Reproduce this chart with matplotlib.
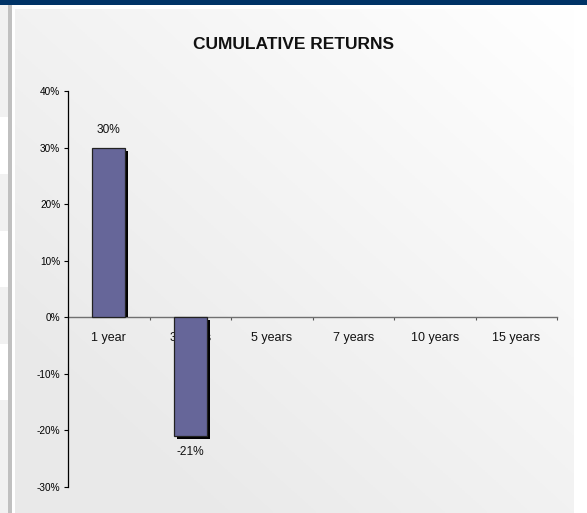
import numpy as np
import matplotlib
matplotlib.use("Agg")
import matplotlib.pyplot as plt
from matplotlib.patches import Rectangle
from matplotlib.transforms import Bbox, TransformedBbox, offset_copy

periods = ["1 year", "3 years", "5 years", "7 years", "10 years", "15 years"]
returns = [0.30, -0.21, None, None, None, None]
yticks = [-0.3, -0.2, -0.1, 0.0, 0.1, 0.2, 0.3, 0.4]

W, H = 587, 513
fig = plt.figure(figsize=(W / 100, H / 100), dpi=100)
fig.patch.set_facecolor("white")
plt.rcParams["font.family"] = ["Liberation Sans", "DejaVu Sans"]


def rect(x, y, w, h):
    # pixel box (top-left origin) -> figure fraction
    return [x / W, 1 - (y + h) / H, w / W, h / H]


def fig_box(x, y, w, h, color):
    r = rect(x, y, w, h)
    fig.add_artist(Rectangle((r[0], r[1]), r[2], r[3], transform=fig.transFigure,
                             facecolor=color, edgecolor="none", zorder=0))


# page decoration
fig_box(0, 0, W, 5, "#003366")
for y0, y1, c in [(5, 117, "#f1f1f1"), (117, 174, "white"), (174, 231, "#f1f1f1"),
                  (231, 287, "white"), (287, 344, "#f1f1f1"), (344, 400, "white"),
                  (400, 513, "#f1f1f1")]:
    fig_box(0, y0, 8, y1 - y0, c)
fig_box(8, 5, 4, H - 5, "#c0c0c0")

# gradient panel
bg = fig.add_axes(rect(15, 9, 559, 504))
bg.set_zorder(-1)
gx, gy = np.meshgrid(np.linspace(0, 1, 200), np.linspace(0, 1, 200))
t = np.clip(((1 - gx) * 0.6 + gy * 0.6), 0, 1)
shade = 1 - 0.085 * t
bg.imshow(np.dstack([shade] * 3), aspect="auto", extent=(0, 1, 1, 0))
bg.axis("off")

ax = fig.add_axes(rect(68, 91, 489, 396))
ax.set_facecolor("none")
ax.set_xlim(-0.5, len(periods) - 0.5)
ax.set_ylim(-0.3, 0.4)

x = np.arange(len(periods))
vals = [v if v is not None else 0 for v in returns]
shadow_tr = offset_copy(ax.transData, fig=fig, x=3, y=-3, units="dots")
shadows = ax.bar(x, vals, width=0.4, color="black", edgecolor="none",
                 transform=shadow_tr, zorder=2.9)
bars = ax.bar(x, vals, width=0.4, color="#666699", edgecolor="#222222",
              linewidth=0.9, zorder=3)
upper = TransformedBbox(Bbox([[-0.5, 0.0], [len(periods) - 0.5, 0.4]]), ax.transData)
for b, s, v in zip(bars, shadows, returns):
    if v is None:
        b.set_visible(False)
        s.set_visible(False)
        continue
    if v >= 0:
        s.set_clip_box(upper)
        ax.annotate(f"{v * 100:.0f}%", (b.get_x() + b.get_width() / 2, v),
                    xytext=(0, 10.8), textcoords="offset points", ha="center",
                    va="baseline", fontsize=8.6, color="#111111", zorder=4)
    else:
        ax.annotate(f"{v * 100:.0f}%", (b.get_x() + b.get_width() / 2, v),
                    xytext=(0, -13.7), textcoords="offset points", ha="center",
                    va="baseline", fontsize=8.6, color="#111111", zorder=4)

for i, p in enumerate(periods):
    ax.annotate(p, (i, 0), xytext=(0, -17.3), textcoords="offset points",
                ha="center", va="baseline", fontsize=9, color="#111111", zorder=1)

ax.set_yticks(yticks)
ax.set_yticklabels([f"{v * 100:.0f}%" for v in yticks])
ax.set_xticks(np.arange(len(periods)) + 0.5)
ax.set_xticklabels([])
ax.tick_params(axis="y", direction="out", length=3, width=0.8, pad=2.5,
               labelsize=7.2, colors="black")
ax.tick_params(axis="x", direction="out", length=2.2, width=0.8, color="#555555")
for s in ["top", "right"]:
    ax.spines[s].set_visible(False)
ax.spines["bottom"].set_position(("data", 0))
ax.spines["bottom"].set_color("#707070")
ax.spines["bottom"].set_linewidth(1.0)
ax.spines["left"].set_color("black")
ax.spines["left"].set_linewidth(0.9)
ax.spines["bottom"].set_zorder(2)

fig.text(294 / W, 1 - 44.5 / H, "CUMULATIVE RETURNS", ha="center", va="center",
         fontsize=12.5, fontweight="bold", color="#111111")

fig.savefig("out.png", dpi=100)
